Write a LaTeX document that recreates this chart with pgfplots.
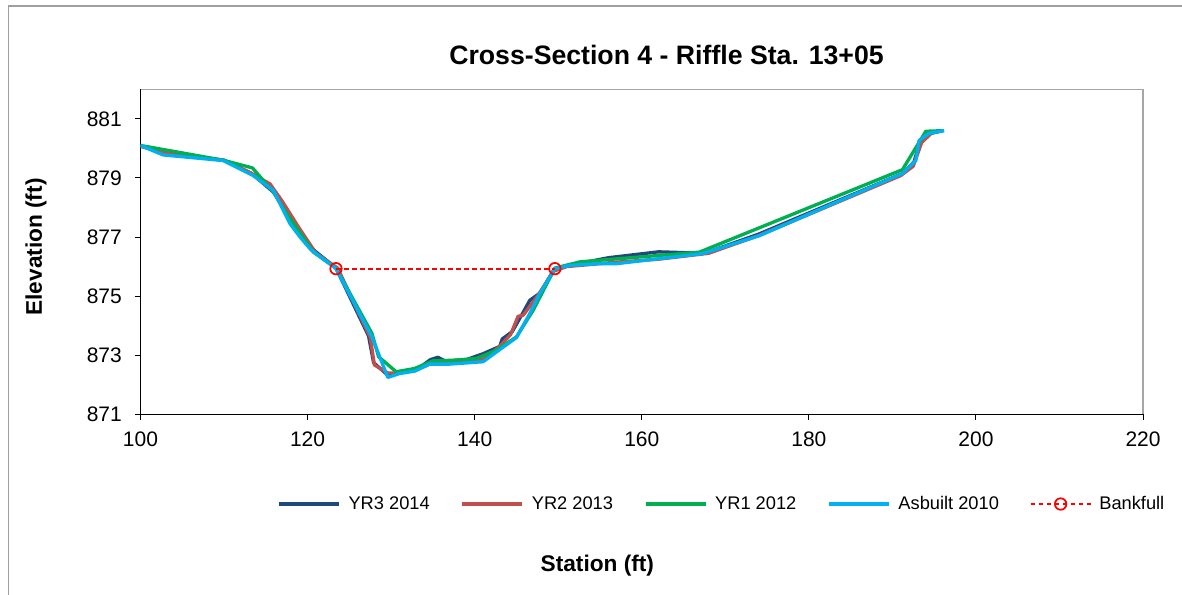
\documentclass[border=0pt]{standalone}
\usepackage{fontspec}
\setmainfont{Liberation Sans}
\usepackage{pgfplots}
\pgfplotsset{compat=1.18}
\pgfplotsset{thickleg/.style={legend image code/.code={\draw[##1, line width=2.8pt] (0pt,0pt) -- (45pt,0pt);}}}
\definecolor{cYRthree}{RGB}{31,73,125}
\definecolor{cYRtwo}{RGB}{192,80,77}
\definecolor{cYRone}{RGB}{0,176,80}
\definecolor{cAsb}{RGB}{0,176,240}
\begin{document}
\begin{tikzpicture}
\useasboundingbox (0,0) rectangle (886.5pt,446.25pt);
\draw[gray!75, line width=0.9pt] (6.2pt,0pt) -- (6.2pt,441.75pt) -- (886.5pt,441.75pt);
\node[font=\fontsize{20}{24}\selectfont\bfseries] at (499.9pt,405pt) {Cross-Section 4 - Riffle Sta. 13+05};
\node[font=\fontsize{17}{20}\selectfont\bfseries, rotate=90] at (27pt,261pt) {Elevation (ft)};
\node[font=\fontsize{17}{20}\selectfont\bfseries] at (448pt,22pt) {Station (ft)};
\begin{axis}[
  at={(105.375pt,135.5pt)}, anchor=south west,
  scale only axis, width=751.9pt, height=243.75pt,
  xmin=100, xmax=220, ymin=871, ymax=882,
  xtick={100,120,...,220}, ytick={871,873,...,881},
  axis x line*=bottom, axis y line*=left,
  axis line style={-, black, line width=0.9pt},
  axis background/.style={draw=gray!70, line width=1.2pt},
  tick align=outside, major tick length=4.5pt,
  tick style={black, line width=0.8pt},
  /pgf/number format/assume math mode=true,
  ticklabel style={font=\fontsize{15.75}{18}\selectfont},
  xticklabel style={yshift=-5pt},
  yticklabel style={xshift=-6pt},
  legend columns=5,
  legend style={draw=none, fill=none, inner sep=0pt, font=\fontsize{13.7}{16}\selectfont,
    at={(0.136,-0.276)}, anchor=west,
    /tikz/every odd column/.append style={column sep=3.75pt},
    /tikz/every even column/.append style={column sep=21pt}},
  legend image code/.code={\draw[mark repeat=2,mark phase=2,#1] plot coordinates {(0pt,0pt)(22.5pt,0pt)(45pt,0pt)};},
]
\addplot[cYRthree, mark=none, line width=2.5pt, line join=round, thickleg] coordinates {
(100,880.08)(103,879.82)(110,879.6)(113.3,879.15)(116,878.5)(117.5,877.9)(119.5,876.9)(121,876.5)
(123.4,875.95)(127.3,873.65)(127.9,872.75)(129.5,872.35)(131,872.4)(133,872.5)(134.7,872.85)
(135.6,872.93)(136.5,872.8)(139,872.85)(141,873.05)(143,873.3)(143.3,873.55)(144.5,873.8)
(145.7,874.4)(146.6,874.86)(147.8,875.1)(149.5,875.9)(151.5,876.05)(156,876.3)(162,876.5)
(167.5,876.45)(174,877.1)(191.2,879.15)(192.6,879.55)(193.3,880.25)(194.5,880.5)(196,880.6)};
\addlegendentry{YR3 2014}
\addplot[cYRtwo, mark=none, line width=2.5pt, line join=round, thickleg] coordinates {
(100,880.08)(103,879.85)(110,879.6)(113,879.2)(115.5,878.8)(116.9,878.24)(119,877.3)(121,876.45)
(123.6,875.95)(127.5,873.6)(128,872.67)(129.6,872.4)(131,872.4)(133,872.5)(135,872.75)(137,872.75)
(141,872.85)(143,873.3)(144.3,873.7)(145.2,874.32)(145.8,874.35)(147.5,875.0)(149.5,875.85)
(151,876.0)(157,876.15)(162,876.25)(168,876.45)(174,877.05)(191,879.08)(192.5,879.4)(193.5,880.2)
(194.8,880.55)(196,880.6)};
\addlegendentry{YR2 2013}
\addplot[cYRone, mark=none, line width=2.5pt, line join=round, thickleg] coordinates {
(100,880.10)(109.9,879.60)(113.4,879.34)(115.9,878.52)(117.5,877.79)(120.7,876.49)(123.4,875.95)
(127.7,873.74)(128.5,872.95)(130.6,872.44)(132.8,872.55)(135.0,872.81)(137.4,872.83)(140.2,872.89)
(142.6,873.17)(145.0,873.62)(147.0,874.52)(149.6,875.95)(152.6,876.16)(166.9,876.49)(191.2,879.28)
(194.0,880.58)(196.0,880.60)};
\addlegendentry{YR1 2012}
\addplot[cAsb, mark=none, line width=2.5pt, line join=round, thickleg] coordinates {
(100,880.10)(102.7,879.78)(109.9,879.59)(113.5,879.08)(115.9,878.58)(117.9,877.45)(119.1,877.00)
(120.4,876.57)(123.4,875.93)(127.7,873.62)(129.6,872.25)(131.0,872.38)(132.8,872.46)(134.6,872.70)
(137.0,872.70)(141.0,872.78)(142.6,873.11)(145.0,873.60)(146.6,874.41)(147.8,875.09)(149.6,875.93)
(151.4,876.04)(155.0,876.10)(157.0,876.10)(167.3,876.44)(174.1,877.05)(191.2,879.15)(192.8,879.59)
(193.2,880.27)(194.4,880.51)(196.2,880.60)};
\addlegendentry{Asbuilt 2010}
\addplot[red, line width=1.5pt, dash pattern=on 3.5pt off 2.5pt, mark=o, mark size=4.3pt,
  mark options={solid, line width=1.3pt}]
  coordinates {(123.4,875.93)(149.6,875.93)};
\addlegendentry{Bankfull}
\end{axis}
\end{tikzpicture}
\end{document}
